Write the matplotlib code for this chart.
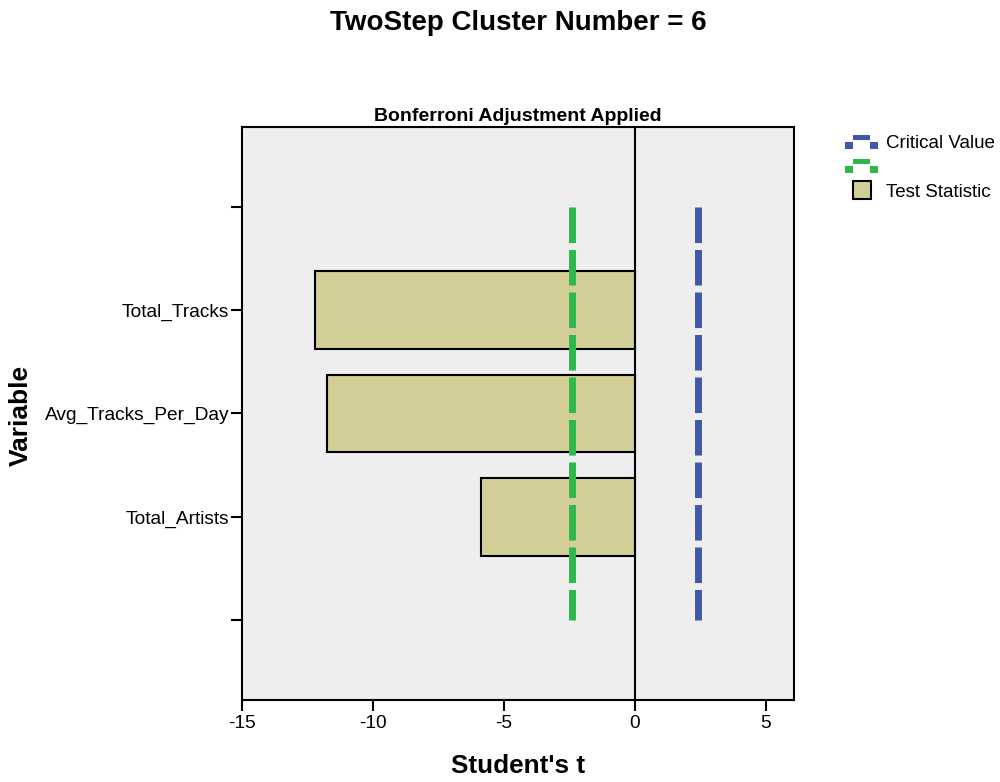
import matplotlib
matplotlib.use("Agg")
import matplotlib.pyplot as plt
from matplotlib.legend_handler import HandlerBase
from matplotlib.patches import Rectangle
from matplotlib.lines import Line2D

plt.rcParams['font.family'] = ['Liberation Sans', 'DejaVu Sans']
plt.rcParams['lines.scale_dashes'] = False

# ---- data ----
categories = ["", "Total_Tracks", "Avg_Tracks_Per_Day", "Total_Artists", ""]
variables = ["Total_Tracks", "Avg_Tracks_Per_Day", "Total_Artists"]
test_statistic = [-12.22, -11.77, -5.86]
critical_value = 2.40
title = "TwoStep Cluster Number = 6"
subtitle = "Bonferroni Adjustment Applied"
xticks = [-15, -10, -5, 0, 5]

bar_color = "#D3CE97"
blue = "#3F58AA"
green = "#2EB84C"
bg = "#EEEEEE"

PX = 0.72  # points per pixel at dpi 100

fig = plt.figure(figsize=(10, 7.82), dpi=100)
ax = fig.add_axes([0.242, 0.1049, 0.552, 0.7327])
ax.set_facecolor(bg)

ypos = [categories.index(v) for v in variables]
ax.barh(ypos, test_statistic, height=0.75, color=bar_color,
        edgecolor="black", linewidth=1.5, zorder=2)

ax.axvline(0, color="black", linewidth=1.5, zorder=3)

dash = (0, (25.6, 5.0))
ax.plot([-critical_value, -critical_value], [0, len(categories) - 1],
        color=green, linewidth=5, linestyle=dash,
        dash_capstyle="butt", zorder=4)
ax.plot([critical_value, critical_value], [0, len(categories) - 1],
        color=blue, linewidth=5, linestyle=dash,
        dash_capstyle="butt", zorder=4)

ax.set_xlim(-15, 6.07)
ax.set_ylim(len(categories) - 1 + 0.77, -0.77)
ax.set_xticks(xticks)
ax.set_xticklabels([str(t) for t in xticks])
ax.set_yticks(range(len(categories)))
ax.set_yticklabels(categories)
ax.tick_params(axis="both", labelsize=13.75, width=1.5, length=8, direction="out")
ax.tick_params(axis="y", pad=1)
ax.tick_params(axis="x", pad=3)
for s in ax.spines.values():
    s.set_linewidth(1.5)
    s.set_color("black")

ax.set_xlabel("Student's t", fontsize=18.8, fontweight="bold")
ax.xaxis.set_label_coords(0.5, -0.094)
ax.set_ylabel("Variable", fontsize=19, fontweight="bold")
ax.yaxis.set_label_coords(-0.379, 0.497)

ax.set_title(subtitle, fontsize=14, fontweight="bold", pad=4)
fig.text(0.518, 1 - 23 / 782, title, ha="center", va="center",
         fontsize=20, fontweight="bold")


# ---- legend with SPSS-style step icons ----
class StepHandler(HandlerBase):
    def __init__(self, color):
        super().__init__()
        self.color = color

    def create_artists(self, legend, orig_handle, xdescent, ydescent,
                       width, height, fontsize, trans):
        cx = width / 2 - xdescent
        cy = height / 2 - ydescent
        tw, th = 17 * PX, 5 * PX
        sw, sh = 8 * PX, 7 * PX
        y_bot = cy - 7 * PX
        top = Rectangle((cx - tw / 2, y_bot + 9 * PX), tw, th,
                        facecolor=self.color, edgecolor="none", transform=trans)
        left = Rectangle((cx - tw / 2 - sw, y_bot), sw, sh,
                         facecolor=self.color, edgecolor="none", transform=trans)
        right = Rectangle((cx + tw / 2, y_bot), sw, sh,
                          facecolor=self.color, edgecolor="none", transform=trans)
        return [top, left, right]


class SquareHandler(HandlerBase):
    def create_artists(self, legend, orig_handle, xdescent, ydescent,
                       width, height, fontsize, trans):
        s = 18 * PX
        cx = width / 2 - xdescent
        cy = height / 2 - ydescent
        r = Rectangle((cx - s / 2, cy - s / 2), s, s, facecolor=bar_color,
                      edgecolor="black", linewidth=1.5, transform=trans)
        return [r]


h_blue = Line2D([], [], color=blue)
h_green = Line2D([], [], color=green)
h_bar = Rectangle((0, 0), 1, 1, facecolor=bar_color)
leg = fig.legend([h_blue, h_green, h_bar], ["Critical Value", "", "Test Statistic"],
                 handler_map={h_blue: StepHandler(blue), h_green: StepHandler(green),
                              h_bar: SquareHandler()},
                 loc="upper left", bbox_to_anchor=(0.845, 1 - 135 / 782),
                 frameon=False, fontsize=13.5, handlelength=1.76,
                 handleheight=0.75, handletextpad=0.42, labelspacing=0.36,
                 borderpad=0, borderaxespad=0)

fig.savefig("out.png", dpi=100)
